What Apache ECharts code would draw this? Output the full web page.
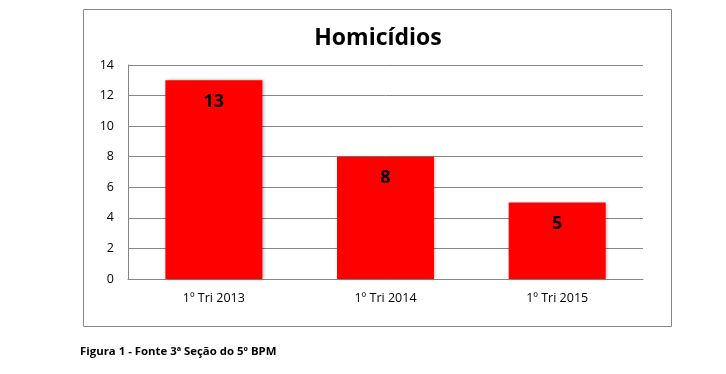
<!DOCTYPE html>
<html><head><meta charset="utf-8">
<script src="https://cdn.jsdelivr.net/npm/echarts@6/dist/echarts.min.js"></script>
<style>html,body{margin:0;padding:0;background:#fff}#c{width:726px;height:374px}</style>
</head><body><div id="c"></div>
<script>
const categories = ['1º Tri 2013', '1º Tri 2014', '1º Tri 2015'];
const values = [13, 8, 5];
const yTicks = [0, 2, 4, 6, 8, 10, 12, 14];

const chart = echarts.init(document.getElementById('c'), null, {renderer: 'canvas'});
const font = "'Open Sans', 'Noto Sans', sans-serif";
chart.setOption({
  animation: false,
  title: {
    text: 'Homicídios', left: 373, top: 22, textAlign: 'center',
    textStyle: {fontFamily: font, fontWeight: 'bold', fontSize: 23, color: '#000'}
  },
  graphic: [
    {type: 'rect', shape: {x: 83.5, y: 9.5, width: 588, height: 317}, style: {fill: 'none', stroke: '#878787', lineWidth: 1}, z: -1},
    {type: 'text', left: 80, top: 346, style: {text: 'Figura 1 - Fonte 3ª Seção do 5º BPM', fontFamily: font, fontWeight: 'bold', fontSize: 11.4, fill: '#000'}}
  ],
  grid: {left: 128, top: 65, width: 515, height: 214, containLabel: false},
  xAxis: {
    type: 'category', data: categories,
    axisLine: {lineStyle: {color: '#868686'}},
    axisTick: {show: false},
    axisLabel: {fontFamily: font, fontSize: 12.5, color: '#000', margin: 13}
  },
  yAxis: {
    type: 'value', min: yTicks[0], max: yTicks[yTicks.length - 1], interval: 2,
    axisLine: {show: true, lineStyle: {color: '#868686'}},
    axisTick: {show: false},
    splitLine: {lineStyle: {color: '#868686'}},
    axisLabel: {fontFamily: font, fontSize: 12.5, color: '#000', margin: 14}
  },
  series: [{
    type: 'bar', data: values, barWidth: '56.5%',
    itemStyle: {color: '#ff0000', shadowColor: 'rgba(0,0,0,0.35)', shadowBlur: 3, shadowOffsetX: 1.5, shadowOffsetY: 0},
    label: {show: true, position: 'insideTop', distance: 12.5, fontFamily: font, fontWeight: 'bold', fontSize: 18, color: '#000'}
  }]
});
</script></body></html>
